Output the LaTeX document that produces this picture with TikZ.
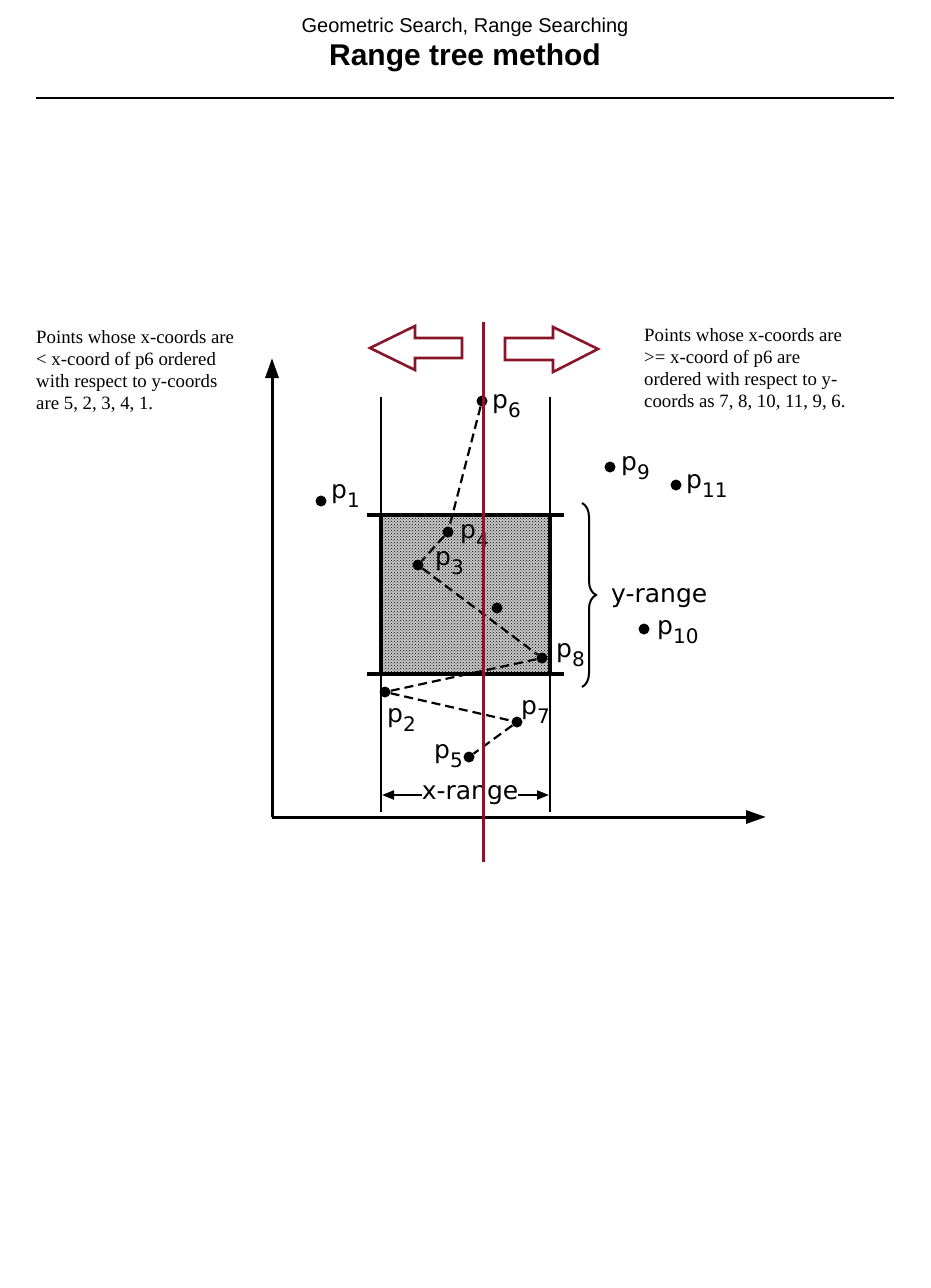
\documentclass[tikz,border=0pt]{standalone}
\usepackage{fontspec}
\setmainfont{Liberation Serif}
\newfontfamily\headfont{Liberation Sans}
\newfontfamily\figfont{DejaVu Sans}
\usetikzlibrary{positioning}
\usetikzlibrary{arrows.meta}
\usetikzlibrary{patterns}
\usetikzlibrary{decorations.pathreplacing}
\definecolor{splitred}{RGB}{139,21,40}
\newcommand{\plab}[1]{p\raisebox{-9pt}{\fontsize{20}{20}\selectfont #1}}

\begin{document}
\begin{tikzpicture}[x=1pt, y=-1pt,
    dot/.style={circle, fill, inner sep=0pt, minimum size=11pt},
    plabel/.style={font=\figfont\fontsize{25}{25}\selectfont, inner sep=0pt, anchor=base west},
    chainline/.style={dash pattern=on 9pt off 5pt, line width=2.2pt},
    axis/.style={line width=3pt, -{Triangle[length=20pt,width=13pt]}},
    bigarrow/.style={draw=splitred, line width=2.6pt, fill=white}]
    \useasboundingbox (0,0) rectangle (931,1288);

    % Header
    \node[font=\headfont\fontsize{20}{24}\selectfont] (sub) at (465,27) {Geometric Search, Range Searching};
    \node[font=\headfont\bfseries\fontsize{30}{34}\selectfont] (title) at (465,58) {Range tree method};
    \draw[line width=2pt] (36,98) -- (894,98);

    % Side notes
    \node[anchor=north west, align=left, inner sep=0pt, font=\fontsize{18.8}{22}\selectfont] (lefttxt) at (36,330)
        {Points whose x-coords are\\< x-coord of p6 ordered\\with respect to y-coords\\are 5, 2, 3, 4, 1.};
    \node[anchor=north west, align=left, inner sep=0pt, font=\fontsize{18.8}{22}\selectfont] (righttxt) at (644,328)
        {Points whose x-coords are\\>= x-coord of p6 are\\ordered with respect to y-\\coords as 7, 8, 10, 11, 9, 6.};

    % Axes
    \coordinate (O) at (272,817);
    \coordinate (ytop) at (272,358);
    \coordinate (xend) at (766,817);
    \draw[axis] (O) -- (ytop);
    \draw[axis] (O) -- (xend);

    % Query rectangle
    \fill[black!22] (381,515) rectangle (550,674);
    \fill[pattern=crosshatch dots, pattern color=black] (381,515) rectangle (550,674);
    \draw[line width=2pt] (381,397) -- (381,812) (550,397) -- (550,812);
    \draw[line width=3.2pt] (381,515) rectangle (550,674);
    \draw[line width=3.2pt] (367,515) -- (564,515) (367,674) -- (564,674);

    % y-range
    \draw[decorate, decoration={brace, amplitude=14pt}, line width=2pt] (582,503) -- (582,687);
    \node[plabel, anchor=west] (yr) at (611,598) {y-range};

    % x-range
    \node[plabel, anchor=center] (xr) at (470,795) {x-range};
    \coordinate (xl) at (382,795);
    \coordinate (xr2) at (549,795);
    \draw[line width=2pt, -{Triangle[length=12pt,width=9pt]}] (xr.west) -- (xl);
    \draw[line width=2pt, -{Triangle[length=12pt,width=9pt]}] (xr.east) -- (xr2);

    % Points
    \node[dot] (p1) at (321,501) {};
    \node[dot] (p2) at (385,692) {};
    \node[dot] (p3) at (418,565) {};
    \node[dot] (p4) at (448,532) {};
    \node[dot] (p5) at (469,757) {};
    \node[dot] (p6) at (482,401) {};
    \node[dot] (p7) at (517,722) {};
    \node[dot] (p8) at (542,658) {};
    \node[dot] (p9) at (610,467) {};
    \node[dot] (p10) at (644,629) {};
    \node[dot] (p11) at (676,485) {};
    \node[dot] (q) at (497,608) {};

    \node[plabel] (l1) at (331,498) {\plab{1}};
    \node[plabel] (l2) at (387,722) {\plab{2}};
    \node[plabel] (l3) at (435,565) {\plab{3}};
    \node[plabel] (l4) at (460,538) {\plab{4}};
    \node[plabel] (l5) at (434,758) {\plab{5}};
    \node[plabel] (l6) at (492,408) {\plab{6}};
    \node[plabel] (l7) at (521,714) {\plab{7}};
    \node[plabel] (l8) at (556,657) {\plab{8}};
    \node[plabel] (l9) at (621,470) {\plab{9}};
    \node[plabel] (l10) at (657,634) {\plab{10}};
    \node[plabel] (l11) at (686,488) {\plab{11}};

    % Chain by y-coordinate
    \draw[chainline] (p6) -- (p4);
    \draw[chainline] (p4) -- (p3);
    \draw[chainline] (p3) -- (p8);
    \draw[chainline] (p8) -- (p2);
    \draw[chainline] (p2) -- (p7);
    \draw[chainline] (p7) -- (p5);

    % Split line at p6
    \coordinate (splittop) at (483,322);
    \coordinate (splitbot) at (483,862);
    \draw[splitred, line width=3pt] (splittop) -- (splitbot);
    \draw[bigarrow] (370,348) -- (415,326) -- (415,338) -- (462,338) -- (462,358) -- (415,358) -- (415,370) -- cycle;
    \draw[bigarrow] (505,338) -- (553,338) -- (553,327) -- (598,349) -- (553,372) -- (553,360) -- (505,360) -- cycle;
\end{tikzpicture}
\end{document}
